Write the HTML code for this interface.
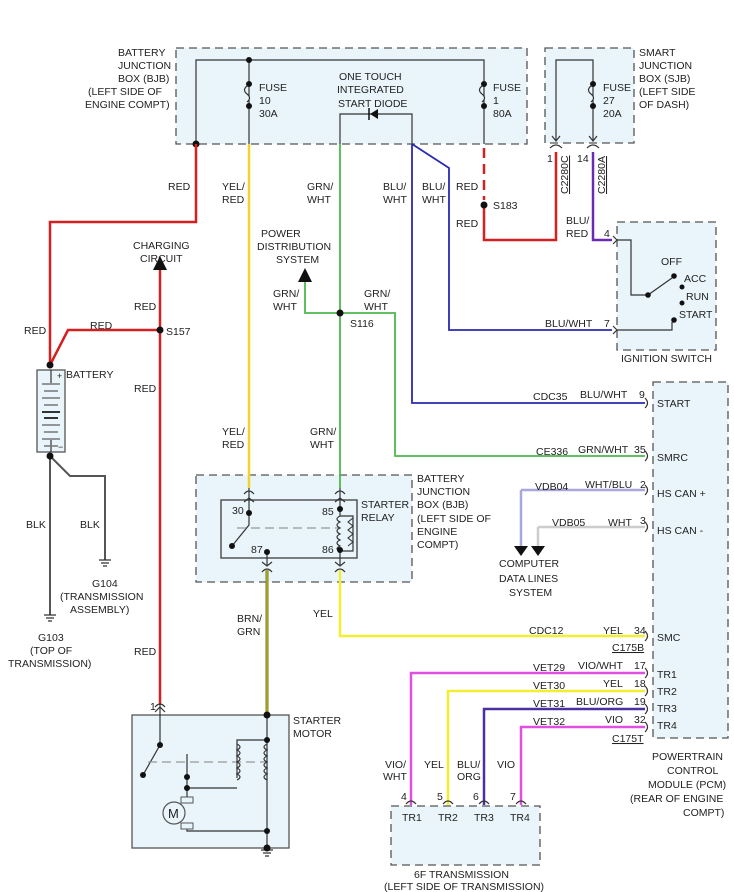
<!DOCTYPE html>
<html><head><meta charset="utf-8"><style>
html,body{margin:0;padding:0;background:#fff}
svg{display:block}
text{font-family:"Liberation Sans",Arial,sans-serif;font-size:10.5px;fill:#222}
.box{fill:#e9f5fb;stroke:#555;stroke-width:1.3;stroke-dasharray:8,5}
.k{stroke:#333;stroke-width:1.2;fill:none}
.d{fill:#111}
</style></head><body>
<svg width="734" height="892" viewBox="0 0 734 892" xmlns="http://www.w3.org/2000/svg">
<rect class="box" x="176" y="48" width="351" height="96"/>
<rect class="box" x="545" y="48" width="89" height="95"/>
<rect class="box" x="617" y="222" width="99" height="128"/>
<rect class="box" x="196" y="475" width="216" height="107"/>
<rect class="box" x="653" y="382" width="75" height="356"/>
<rect class="box" x="391" y="806" width="149" height="59"/>
<rect x="132" y="715" width="157" height="133" fill="#e9f5fb" stroke="#555" stroke-width="1.3"/>
<rect x="221" y="500" width="136" height="58" fill="#e9f5fb" stroke="#555" stroke-width="1.5"/>
<rect x="37" y="370" width="28" height="82" fill="#e9f5fb" stroke="#555" stroke-width="1.3"/>

<path class="k" d="M196 144V60H484V144 M249 60V144 M340 144V114H412V144"/>
<circle class="d" cx="249" cy="60" r="3"/>
<circle class="d" cx="249" cy="84" r="3"/><circle class="d" cx="249" cy="106" r="3"/>
<circle class="d" cx="484" cy="84" r="3"/><circle class="d" cx="484" cy="106" r="3"/>
<path d="M247 86q-5 4 0 8q5 4 0 8" stroke="#333" fill="#e9f5fb" stroke-width="1.2"/>
<path d="M482 86q-5 4 0 8q5 4 0 8" stroke="#333" fill="#e9f5fb" stroke-width="1.2"/>
<path d="M370 114L378 109V119Z" fill="#111"/><path d="M369 108V120" stroke="#111" stroke-width="1.5"/>
<circle class="d" cx="196" cy="144" r="3.5"/>
<text x="118" y="56">BATTERY</text><text x="118" y="69">JUNCTION</text><text x="118" y="82">BOX (BJB)</text><text x="88" y="95">(LEFT SIDE OF</text><text x="85" y="108">ENGINE COMPT)</text>
<text x="259" y="91">FUSE</text><text x="259" y="104">10</text><text x="259" y="117">30A</text>
<text x="493" y="91">FUSE</text><text x="493" y="104">1</text><text x="493" y="117">80A</text>
<text x="339" y="80">ONE TOUCH</text><text x="337" y="93">INTEGRATED</text><text x="338" y="107">START DIODE</text>

<path class="k" d="M556 140V60H593V140"/>
<circle class="d" cx="593" cy="84" r="3"/><circle class="d" cx="593" cy="106" r="3"/>
<path d="M591 86q-5 4 0 8q5 4 0 8" stroke="#333" fill="#e9f5fb" stroke-width="1.2"/>
<path class="k" d="M552 136l4 5l4-5 M589 136l4 5l4-5 M550 148q6-6 12 0 M587 148q6-6 12 0"/>
<text x="603" y="91">FUSE</text><text x="603" y="104">27</text><text x="603" y="117">20A</text>
<text x="639" y="56">SMART</text><text x="639" y="69">JUNCTION</text><text x="639" y="82">BOX (SJB)</text><text x="639" y="95">(LEFT SIDE</text><text x="639" y="108">OF DASH)</text>
<text x="547" y="162">1</text><text x="577" y="162">14</text>
<text transform="translate(568,194) rotate(-90)" text-decoration="underline">C2280C</text>
<text transform="translate(605,194) rotate(-90)" text-decoration="underline">C2280A</text>

<path d="M196 144V222H50V365" stroke="#d42020" stroke-width="2.5" fill="none"/>
<path d="M50 365L68 330H160" stroke="#d42020" stroke-width="2.5" fill="none"/>
<path d="M160 262V705" stroke="#d42020" stroke-width="2.5" fill="none"/>
<path d="M153 270L160 256L167 270Z" fill="#111"/>
<circle class="d" cx="160" cy="330" r="3.5"/><circle class="d" cx="50" cy="365" r="3.5"/>
<path d="M484 148V200" stroke="#d42020" stroke-width="2.5" stroke-dasharray="10,6" fill="none"/>
<path d="M484 205V240H556V152" stroke="#d42020" stroke-width="2.5" fill="none"/>
<circle class="d" cx="484" cy="205" r="3.5"/>
<path d="M593 152V240H612" stroke="#6a2ab5" stroke-width="2.5" fill="none"/>
<path d="M249 144V488" stroke="#f2d22e" stroke-width="2.5" fill="none"/>
<path d="M340 144V488 M340 313H305V282 M340 313H395V456H645" stroke="#4cb84c" stroke-width="1.8" fill="none"/>
<path d="M298 282L305 268L312 282Z" fill="#111"/>
<circle class="d" cx="340" cy="313" r="3.5"/>
<path d="M412 144V403H645 M412 144L449 168V330H612" stroke="#2a2ab0" stroke-width="1.8" fill="none"/>
<path d="M521 490V548 M521 490H645" stroke="#a8a8dd" stroke-width="2.5" fill="none"/>
<path d="M538 527V548 M538 527H645" stroke="#ccc" stroke-width="2.5" fill="none"/>
<path d="M514 546H528L521 556Z M531 546H545L538 556Z" fill="#111"/>
<path d="M340 570V636H645" stroke="#f2ee30" stroke-width="2.5" fill="none"/>
<path d="M267 570V715" stroke="#7a7a20" stroke-width="3" fill="none"/>
<path d="M267 570V715" stroke="#c8c820" stroke-width="1" fill="none"/>
<path d="M411 805V673H645" stroke="#e050e0" stroke-width="2.5" fill="none"/>
<path d="M448 805V691H645" stroke="#f2ee30" stroke-width="2.5" fill="none"/>
<path d="M484 805V709H645" stroke="#4a30a0" stroke-width="2.5" fill="none"/>
<path d="M521 805V727H645" stroke="#e050e0" stroke-width="2.5" fill="none"/>
<path d="M50 456V615 M50 456L70 476H105V560" stroke="#555" stroke-width="2" fill="none"/>
<circle class="d" cx="50" cy="456" r="3.5"/>

<path class="k" d="M44 615H56 M46 618H54 M48 621H52 M99 560H111 M101 563H109 M103 566H107 M261 850H273 M263 853H271 M265 856H269"/>
<text x="133" y="249">CHARGING</text><text x="140" y="262">CIRCUIT</text>
<text x="168" y="190">RED</text><text x="24" y="334">RED</text><text x="90" y="329">RED</text><text x="134" y="310">RED</text><text x="134" y="392">RED</text><text x="134" y="655">RED</text>
<text x="166" y="335">S157</text>
<text x="66" y="378">BATTERY</text>
<text x="26" y="528">BLK</text><text x="80" y="528">BLK</text>
<text x="92" y="587">G104</text><text x="60" y="600">(TRANSMISSION</text><text x="70" y="613">ASSEMBLY)</text>
<text x="38" y="641">G103</text><text x="30" y="654">(TOP OF</text><text x="8" y="667">TRANSMISSION)</text>
<text x="222" y="190">YEL/</text><text x="222" y="203">RED</text>
<text x="307" y="190">GRN/</text><text x="307" y="203">WHT</text>
<text x="383" y="190">BLU/</text><text x="383" y="203">WHT</text>
<text x="422" y="190">BLU/</text><text x="422" y="203">WHT</text>
<text x="456" y="190">RED</text><text x="456" y="227">RED</text><text x="493" y="209">S183</text>
<text x="261" y="237">POWER</text><text x="257" y="250">DISTRIBUTION</text><text x="276" y="263">SYSTEM</text>
<text x="273" y="297">GRN/</text><text x="273" y="310">WHT</text>
<text x="364" y="297">GRN/</text><text x="364" y="310">WHT</text>
<text x="350" y="327">S116</text>
<text x="222" y="435">YEL/</text><text x="222" y="448">RED</text>
<text x="310" y="435">GRN/</text><text x="310" y="448">WHT</text>
<text x="566" y="224">BLU/</text><text x="566" y="237">RED</text><text x="604" y="237">4</text>
<text x="545" y="327">BLU/WHT</text><text x="604" y="327">7</text>

<path class="k" d="M617 240H631V295H648L672 278 M617 330H672V322"/>
<path class="k" d="M613 236l4 4l-4 4 M613 326l4 4l-4 4"/>
<circle class="d" cx="648" cy="295" r="2.8"/><circle class="d" cx="674" cy="276" r="2.8"/><circle class="d" cx="682" cy="287" r="2.5"/><circle class="d" cx="682" cy="303" r="2.5"/><circle class="d" cx="674" cy="320" r="2.8"/>
<text x="661" y="265">OFF</text><text x="684" y="282">ACC</text><text x="686" y="300">RUN</text><text x="679" y="318">START</text>
<text x="621" y="362">IGNITION SWITCH</text>

<path class="k" d="M249 488V525L232 546 M340 488V516H353V551H340V565 M267 565V552"/>
<path d="M237 528H340" stroke="#999" stroke-width="1.3" stroke-dasharray="9,5"/>
<path d="M340 516q-6 3 0 6q-6 3 0 6q-6 3 0 6q-6 3 0 6q-6 3 0 6q-6 3 0 5" stroke="#333" fill="none" stroke-width="1.2"/>
<path d="M353 518l-5 4l5 4l-5 4l5 4l-5 4l5 4l-5 4" stroke="#333" fill="none" stroke-width="1.1"/>
<circle class="d" cx="249" cy="513" r="3"/><circle class="d" cx="232" cy="546" r="3"/><circle class="d" cx="267" cy="552" r="3"/><circle class="d" cx="340" cy="509" r="3"/><circle class="d" cx="340" cy="550" r="3"/>
<path class="k" d="M244 494q5-6 10 0 M335 494q5-6 10 0 M244 502l5-4l5 4 M335 502l5-4l5 4 M262 562l5 4l5-4 M335 562l5 4l5-4 M262 572q5-6 10 0 M335 572q5-6 10 0"/>
<text x="232" y="514">30</text><text x="322" y="515">85</text><text x="251" y="553">87</text><text x="322" y="553">86</text>
<text x="361" y="508">STARTER</text><text x="361" y="521">RELAY</text>
<text x="417" y="482">BATTERY</text><text x="417" y="495">JUNCTION</text><text x="417" y="508">BOX (BJB)</text><text x="417" y="522">(LEFT SIDE OF</text><text x="417" y="535">ENGINE</text><text x="417" y="548">COMPT)</text>
<text x="313" y="617">YEL</text>
<text x="237" y="622">BRN/</text><text x="237" y="635">GRN</text>

<path class="k" d="M160 705V745L143 775 M267 715V851 M267 740H237V778 M187 754V788H237 M187 788V797 M187 824V831H267"/>
<path d="M148 762H267" stroke="#999" stroke-width="1.3" stroke-dasharray="9,5"/>
<path d="M237 744q6 3 0 6q6 3 0 6q6 3 0 6q6 3 0 6q6 3 0 6q6 3 0 6" stroke="#333" fill="none" stroke-width="1.2"/>
<path d="M267 744q-6 3 0 6q-6 3 0 6q-6 3 0 6q-6 3 0 6q-6 3 0 6q-6 3 0 6" stroke="#333" fill="none" stroke-width="1.2"/>
<circle class="d" cx="160" cy="745" r="3"/><circle class="d" cx="143" cy="775" r="3"/><circle class="d" cx="187" cy="777" r="3"/><circle class="d" cx="187" cy="788" r="3"/><circle class="d" cx="267" cy="715" r="3.5"/><circle class="d" cx="267" cy="740" r="3"/><circle class="d" cx="267" cy="831" r="3"/><circle class="d" cx="267" cy="848" r="3.5"/>
<rect x="181" y="797" width="12" height="6" fill="#e9f5fb" stroke="#555"/><rect x="181" y="823" width="12" height="6" fill="#e9f5fb" stroke="#555"/>
<circle cx="174" cy="813" r="11" fill="#e9f5fb" stroke="#555" stroke-width="1.2"/>
<text x="168" y="818" style="font-size:13px">M</text>
<path class="k" d="M155 712l5-5l5 5 M155 707q5-6 10 0"/>
<text x="150" y="710">1</text>
<text x="293" y="724">STARTER</text><text x="293" y="737">MOTOR</text>

<path class="k" d="M645 398q5 5 0 10 M645 451q5 5 0 10 M645 485q5 5 0 10 M645 522q5 5 0 10 M645 631q5 5 0 10 M645 668q5 5 0 10 M645 686q5 5 0 10 M645 704q5 5 0 10 M645 722q5 5 0 10"/>
<text x="533" y="400">CDC35</text><text x="580" y="398">BLU/WHT</text><text x="639" y="398">9</text><text x="657" y="407">START</text>
<text x="536" y="455">CE336</text><text x="578" y="453">GRN/WHT</text><text x="634" y="453">35</text><text x="657" y="461">SMRC</text>
<text x="535" y="490">VDB04</text><text x="585" y="488">WHT/BLU</text><text x="640" y="488">2</text><text x="657" y="497">HS CAN +</text>
<text x="552" y="526">VDB05</text><text x="608" y="526">WHT</text><text x="640" y="524">3</text><text x="657" y="534">HS CAN -</text>
<text x="499" y="567">COMPUTER</text><text x="499" y="582">DATA LINES</text><text x="509" y="596">SYSTEM</text>
<text x="529" y="634">CDC12</text><text x="603" y="634">YEL</text><text x="634" y="634">34</text><text x="657" y="641">SMC</text>
<text x="612" y="651" text-decoration="underline">C175B</text>
<text x="533" y="671">VET29</text><text x="578" y="669">VIO/WHT</text><text x="634" y="669">17</text><text x="657" y="678">TR1</text>
<text x="533" y="689">VET30</text><text x="603" y="687">YEL</text><text x="634" y="687">18</text><text x="657" y="695">TR2</text>
<text x="533" y="707">VET31</text><text x="576" y="705">BLU/ORG</text><text x="634" y="705">19</text><text x="657" y="712">TR3</text>
<text x="533" y="725">VET32</text><text x="605" y="723">VIO</text><text x="634" y="723">32</text><text x="657" y="729">TR4</text>
<text x="612" y="742" text-decoration="underline">C175T</text>
<text x="652" y="760">POWERTRAIN</text><text x="667" y="774">CONTROL</text><text x="648" y="788">MODULE (PCM)</text><text x="630" y="802">(REAR OF ENGINE</text><text x="683" y="816">COMPT)</text>

<path class="k" d="M406 804q5-6 10 0 M443 804q5-6 10 0 M479 804q5-6 10 0 M516 804q5-6 10 0"/>
<text x="385" y="768">VIO/</text><text x="383" y="780">WHT</text><text x="424" y="768">YEL</text><text x="457" y="768">BLU/</text><text x="457" y="780">ORG</text><text x="497" y="768">VIO</text>
<text x="401" y="800">4</text><text x="437" y="800">5</text><text x="473" y="800">6</text><text x="510" y="800">7</text>
<text x="402" y="821">TR1</text><text x="438" y="821">TR2</text><text x="474" y="821">TR3</text><text x="510" y="821">TR4</text>
<text x="414" y="878">6F TRANSMISSION</text><text x="384" y="890">(LEFT SIDE OF TRANSMISSION)</text>

<path class="k" d="M51 370V383 M51 440V452"/>
<path d="M42 384H60M44 391H58M42 398H60M44 405H58" stroke="#777" stroke-width="1.5"/>
<path d="M42 412H60" stroke="#333" stroke-width="2"/><path d="M44 418H58" stroke="#333" stroke-width="2"/>
<path d="M42 425H60M44 432H58M42 439H60M44 446H58" stroke="#777" stroke-width="1.5"/>
<text x="57" y="379" style="font-size:9px">+</text><text x="58" y="450" style="font-size:9px">−</text>
</svg>
</body></html>
